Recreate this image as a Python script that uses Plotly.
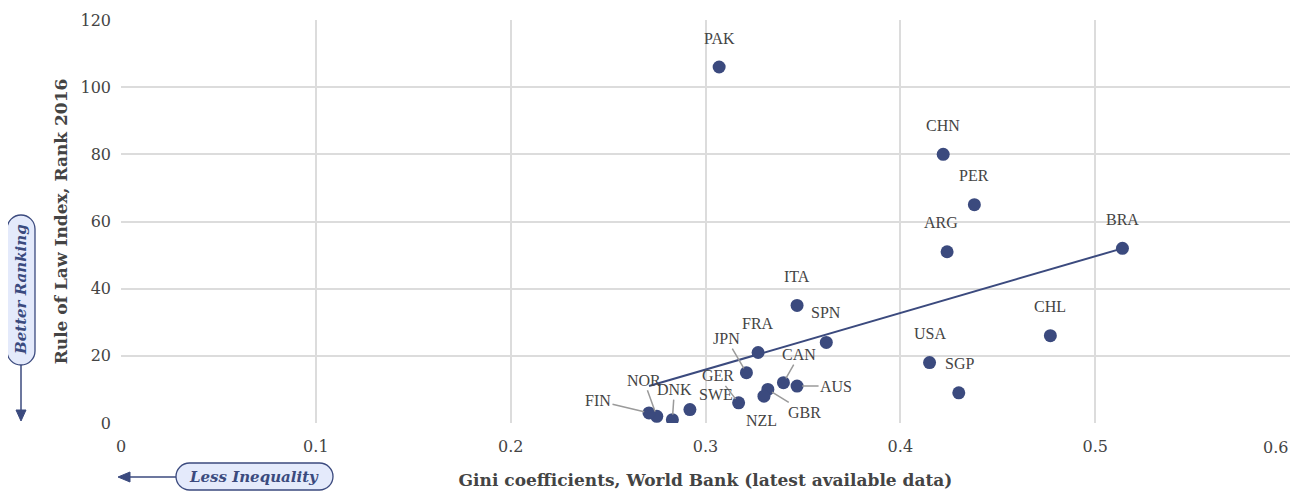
import plotly.graph_objects as go

# Gini coefficient (World Bank) vs Rule of Law Index rank 2016
countries = ["PAK", "CHN", "PER", "ARG", "BRA", "CHL", "USA", "SGP", "ITA", "SPN",
             "FRA", "JPN", "CAN", "AUS", "GBR", "NZL", "GER", "SWE", "DNK", "NOR", "FIN"]
gini = [0.307, 0.422, 0.438, 0.424, 0.514, 0.477, 0.415, 0.430, 0.347, 0.362,
        0.327, 0.321, 0.340, 0.347, 0.332, 0.330, 0.317, 0.292, 0.283, 0.275, 0.271]
rank = [106, 80, 65, 51, 52, 26, 18, 9, 35, 24,
        21, 15, 12, 11, 10, 8, 6, 4, 1, 2, 3]

# trend line
trend_x = [0.271, 0.514]
trend_y = [11, 52]

x_ticks = [0, 0.1, 0.2, 0.3, 0.4, 0.5, 0.6]
x_ticklabels = ["0", "0.1", "0.2", "0.3", "0.4", "0.5", ""]  # last one drawn pulled inside
y_ticks = [0, 20, 40, 60, 80, 100, 120]

NAVY = "#3b4a7e"
GRID = "#dcdcdc"
TEXT = "#444444"
TICK_FONT = "Georgia, 'DejaVu Serif', serif"
LABEL_FONT = "'Liberation Serif', 'Times New Roman', serif"

# label offsets in pixels (dx, dy, leader line?)
label_pos = {
    "PAK": (0, -29, False), "CHN": (0, -29, False), "PER": (0, -29, False),
    "ARG": (-6, -29, False), "BRA": (0, -29, False), "CHL": (0, -29, False),
    "USA": (0, -29, False), "SGP": (1, -29, False), "ITA": (0, -29, False),
    "SPN": (0, -30, False), "FRA": (0, -29, False), "SWE": (26, -15, False),
    "NZL": (-2, 24, False),
    "JPN": (-20, -34, True), "CAN": (16, -28, True), "AUS": (39, 0, True),
    "GBR": (37, 23, True), "GER": (-21, -27, True), "DNK": (2, -30, True),
    "NOR": (-13, -36, True), "FIN": (-51, -12, True),
}

fig = go.Figure()

fig.add_trace(go.Scatter(
    x=trend_x, y=trend_y, mode="lines",
    line=dict(color=NAVY, width=2), hoverinfo="skip", showlegend=False
))
fig.add_trace(go.Scatter(
    x=gini, y=rank, mode="markers", text=countries,
    marker=dict(color=NAVY, size=13), showlegend=False
))

annotations = []
for c, gx, ry in zip(countries, gini, rank):
    dx, dy, line = label_pos[c]
    if line:
        annotations.append(dict(
            x=gx, y=ry, text=c, showarrow=True, ax=dx, ay=dy,
            arrowhead=0, arrowwidth=1.5, arrowcolor="#9a9a9a", standoff=5,
            font=dict(family=LABEL_FONT, size=16, color=TEXT)
        ))
    else:
        annotations.append(dict(
            x=gx, y=ry, text=c, showarrow=False, xshift=dx, yshift=-dy,
            font=dict(family=LABEL_FONT, size=16, color=TEXT)
        ))

# last x tick label, nudged inside the figure
annotations.append(dict(
    x=x_ticks[-1], y=0, xref="x", yref="paper", text=str(x_ticks[-1]),
    showarrow=False, xanchor="center", yanchor="middle", xshift=-15, yshift=-24,
    font=dict(family=TICK_FONT, size=16, color=TEXT)
))

# "Better Ranking" pill text and "Less Inequality" pill text
annotations.append(dict(
    x=0, y=0, xref="paper", yref="paper", xshift=-100, yshift=133,
    xanchor="center", yanchor="middle",
    text="<b><i>Better Ranking</i></b>", textangle=-90, showarrow=False,
    font=dict(family=TICK_FONT, size=15, color=NAVY)
))
annotations.append(dict(
    x=0, y=0, xref="paper", yref="paper", xshift=133, yshift=-54,
    xanchor="center", yanchor="middle",
    text="<b><i>Less Inequality</i></b>", showarrow=False,
    font=dict(family=TICK_FONT, size=15, color=NAVY)
))


def rounded_rect(x0, y0, x1, y1, r):
    k = r * 0.448  # offset of bezier control points from the corner
    return (f"M {x0 + r},{y0} L {x1 - r},{y0} C {x1 - k},{y0} {x1},{y0 + k} {x1},{y0 + r} "
            f"L {x1},{y1 - r} C {x1},{y1 - k} {x1 - k},{y1} {x1 - r},{y1} "
            f"L {x0 + r},{y1} C {x0 + k},{y1} {x0},{y1 - k} {x0},{y1 - r} "
            f"L {x0},{y0 + r} C {x0},{y0 + k} {x0 + k},{y0} {x0 + r},{y0} Z")


px_shape = dict(xref="paper", yref="paper", xsizemode="pixel", ysizemode="pixel",
                xanchor=0, yanchor=0)
shapes = [
    # vertical pill + down arrow
    dict(type="path", path=rounded_rect(-114, 58, -86, 208, 14),
         fillcolor="#e4eafb", line=dict(color=NAVY, width=1.3), **px_shape),
    dict(type="path", path="M -100,58 L -100,12", line=dict(color=NAVY, width=1.5), **px_shape),
    dict(type="path", path="M -105,13 L -95,13 L -100,2 Z", fillcolor=NAVY,
         line=dict(color=NAVY, width=1), **px_shape),
    # horizontal pill + left arrow
    dict(type="path", path=rounded_rect(55, -67, 212, -40, 13.5),
         fillcolor="#e4eafb", line=dict(color=NAVY, width=1.3), **px_shape),
    dict(type="path", path="M 55,-54 L 8,-54", line=dict(color=NAVY, width=1.5), **px_shape),
    dict(type="path", path="M 9,-49 L 9,-59 L -3,-54 Z", fillcolor=NAVY,
         line=dict(color=NAVY, width=1), **px_shape),
]

# page body has an 8px margin, so the figure is a bit smaller than the window
fig.update_layout(
    width=1294, height=483,
    margin=dict(l=113, r=12, t=12, b=68),
    plot_bgcolor="white", paper_bgcolor="white",
    annotations=annotations, shapes=shapes,
    font=dict(family=TICK_FONT, color=TEXT),
)
fig.update_xaxes(
    range=[0, 0.6], tickvals=x_ticks, ticktext=x_ticklabels, automargin=False,
    showgrid=True, gridcolor=GRID, gridwidth=2, zeroline=False, showline=False,
    tickfont=dict(size=16, color=TEXT), ticks="", ticklabelstandoff=12,
    title=dict(text="<b>Gini coefficients, World Bank (latest available data)</b>",
               font=dict(size=17, color=TEXT), standoff=19),
)
fig.update_yaxes(
    range=[0, 120], tickvals=y_ticks, automargin=False,
    showgrid=True, gridcolor=GRID, gridwidth=2, zeroline=False, showline=False,
    tickfont=dict(size=16, color=TEXT), ticks="", ticklabelstandoff=9,
    title=dict(text="<b>Rule of Law Index, Rank 2016</b>",
               font=dict(size=17, color=TEXT), standoff=8),
)

fig.write_html("out.html")
